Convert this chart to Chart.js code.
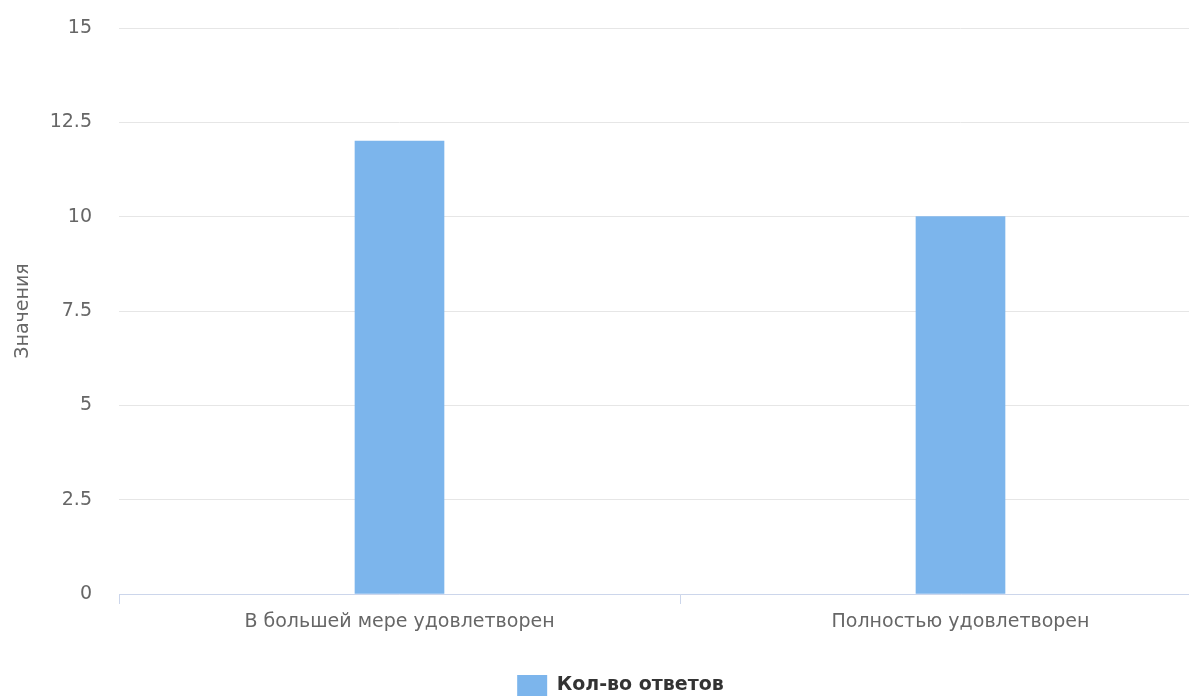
<!DOCTYPE html>
<html lang="ru">
  <head>
    <meta charset="UTF-8" />
    <title>Chart</title>
    <style>
      body {
        margin: 0;
        background: #fff;
        overflow: hidden;
      }
      .wrap {
        width: 1245px;
        height: 698px;
      }
    </style>
  </head>
  <body>
    <div class="wrap"><canvas id="chart"></canvas></div>

    <script src="https://cdn.jsdelivr.net/npm/chart.js@4.4.1/dist/chart.umd.min.js"></script>
    <script>
      const categories = ["В большей мере удовлетворен", "Полностью удовлетворен"];
      const answers = [12, 10];
      const seriesName = "Кол-во ответов";
      const yTicks = [0, 2.5, 5, 7.5, 10, 12.5, 15];

      const font = "'DejaVu Sans', Verdana, sans-serif";

      new Chart("chart", {
        type: "bar",
        data: {
          labels: categories,
          datasets: [
            {
              label: seriesName,
              data: answers,
              backgroundColor: "#7cb5ec",
              barThickness: 89,
            },
          ],
        },
        options: {
          responsive: true,
          maintainAspectRatio: false,
          animation: false,
          layout: { padding: { top: 28, left: 0, right: 4, bottom: -8 } },
          plugins: {
            tooltip: { enabled: false },
            legend: {
              position: "bottom",
              labels: {
                boxWidth: 30,
                boxHeight: 21,
                padding: 3,
                color: "#333",
                font: { family: font, size: 19, weight: "bold" },
              },
            },
          },
          scales: {
            x: {
              afterFit: (s) => {
                s.height = 78;
              },
              grid: {
                offset: true,
                drawOnChartArea: false,
                color: "#ccd6eb",
                tickLength: 10,
              },
              border: { color: "#ccd6eb" },
              ticks: {
                color: "#666",
                padding: 7,
                font: { family: font, size: 19 },
              },
            },
            y: {
              min: 0,
              max: 15,
              afterBuildTicks: (s) => {
                s.ticks = yTicks.map((v) => ({ value: v }));
              },
              afterFit: (s) => {
                s.width = 119;
                // tick padding is only meant horizontally here
                s.paddingTop = 11;
                s.paddingBottom = 11;
              },
              grid: { color: "#e6e6e6", drawTicks: false },
              border: { display: false },
              ticks: {
                color: "#666",
                padding: 27,
                font: { family: font, size: 19 },
              },
              title: {
                display: true,
                text: "Значения",
                color: "#666",
                font: { family: font, size: 19 },
                padding: { top: 12, bottom: 0 },
              },
            },
          },
        },
      });
    </script>
  </body>
</html>
